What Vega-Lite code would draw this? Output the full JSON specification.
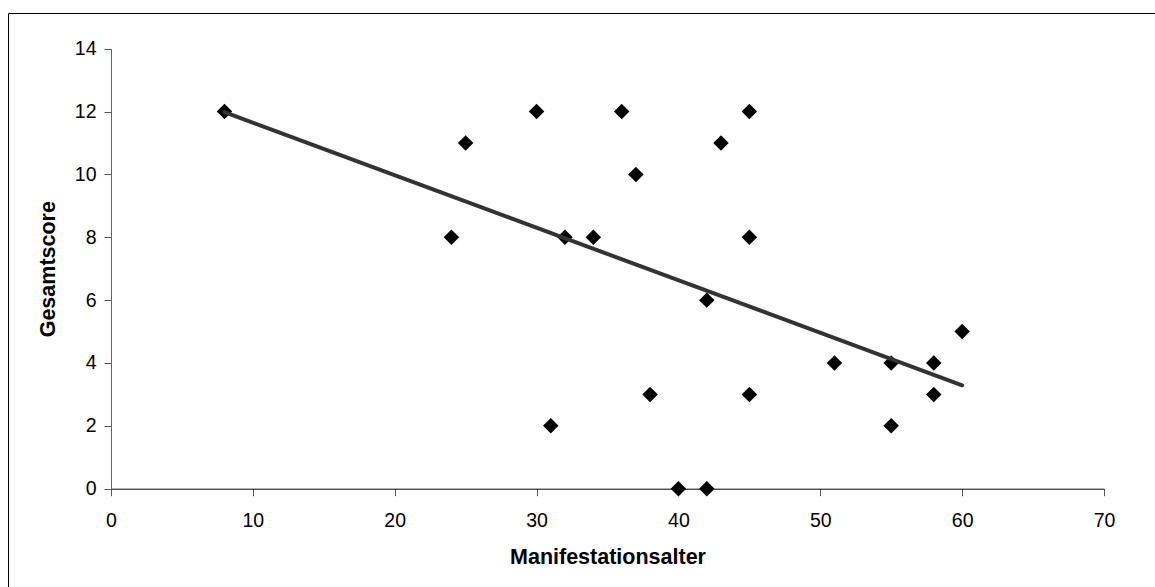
{
  "$schema": "https://vega.github.io/schema/vega-lite/v6.json",
  "autosize": "none",
  "width": 1147,
  "height": 574,
  "padding": {"left": 8, "top": 13, "right": 0, "bottom": 0},
  "background": "white",
  "config": {
    "view": {"stroke": null},
    "font": "Liberation Sans",
    "axis": {
      "grid": false,
      "labelFont": "Liberation Sans",
      "labelFontSize": 19.5,
      "labelColor": "black",
      "labelFlush": false,
      "titleFont": "Liberation Sans",
      "titleFontSize": 21.5,
      "titleFontWeight": "bold",
      "titleColor": "black",
      "tickSize": 7,
      "tickColor": "#555",
      "domainColor": "black"
    }
  },
  "datasets": {
    "points": [
      {"Manifestationsalter": 8, "Gesamtscore": 12},
      {"Manifestationsalter": 24, "Gesamtscore": 8},
      {"Manifestationsalter": 25, "Gesamtscore": 11},
      {"Manifestationsalter": 30, "Gesamtscore": 12},
      {"Manifestationsalter": 31, "Gesamtscore": 2},
      {"Manifestationsalter": 32, "Gesamtscore": 8},
      {"Manifestationsalter": 34, "Gesamtscore": 8},
      {"Manifestationsalter": 36, "Gesamtscore": 12},
      {"Manifestationsalter": 37, "Gesamtscore": 10},
      {"Manifestationsalter": 38, "Gesamtscore": 3},
      {"Manifestationsalter": 40, "Gesamtscore": 0},
      {"Manifestationsalter": 42, "Gesamtscore": 0},
      {"Manifestationsalter": 42, "Gesamtscore": 6},
      {"Manifestationsalter": 43, "Gesamtscore": 11},
      {"Manifestationsalter": 45, "Gesamtscore": 12},
      {"Manifestationsalter": 45, "Gesamtscore": 8},
      {"Manifestationsalter": 45, "Gesamtscore": 3},
      {"Manifestationsalter": 51, "Gesamtscore": 4},
      {"Manifestationsalter": 55, "Gesamtscore": 4},
      {"Manifestationsalter": 55, "Gesamtscore": 2},
      {"Manifestationsalter": 58, "Gesamtscore": 4},
      {"Manifestationsalter": 58, "Gesamtscore": 3},
      {"Manifestationsalter": 60, "Gesamtscore": 5}
    ],
    "trend": [
      {"Manifestationsalter": 8, "Gesamtscore": 11.98},
      {"Manifestationsalter": 60, "Gesamtscore": 3.29}
    ]
  },
  "resolve": {"scale": {"x": "independent", "y": "independent"}, "axis": {"x": "independent", "y": "independent"}},
  "layer": [
    {
      "encoding": {
        "x": {
          "field": "Manifestationsalter",
          "type": "quantitative",
          "scale": {"domain": [0, 70], "range": [103, 1096], "nice": false, "zero": false},
          "axis": {
            "orient": "bottom",
            "title": "Manifestationsalter",
            "values": [0, 10, 20, 30, 40, 50, 60, 70],
            "offset": -98.3,
            "labelPadding": 16,
            "titlePadding": 16,
            "domainColor": "black"
          }
        },
        "y": {
          "field": "Gesamtscore",
          "type": "quantitative",
          "scale": {"domain": [0, 14], "range": [475.7, 35.7], "nice": false, "zero": false},
          "axis": {
            "orient": "left",
            "title": "Gesamtscore",
            "values": [0, 2, 4, 6, 8, 10, 12, 14],
            "offset": -103,
            "labelPadding": 8,
            "titlePadding": 15,
            "domainColor": "#666"
          }
        }
      },
      "layer": [
        {
          "data": {"name": "points"},
          "mark": {"type": "point", "shape": "diamond", "filled": true, "size": 240, "color": "black", "opacity": 1, "strokeWidth": 0}
        },
        {
          "data": {"name": "trend"},
          "mark": {"type": "line", "color": "#333333", "strokeWidth": 4, "strokeCap": "round"}
        }
      ]
    },
    {
      "data": {"name": "trend"},
      "mark": {"type": "point", "opacity": 0},
      "encoding": {
        "x": {
          "field": "Manifestationsalter",
          "type": "quantitative",
          "scale": {"domain": [0, 1147], "range": [0, 1147], "nice": false, "zero": false},
          "axis": {"orient": "top", "title": null, "labels": false, "ticks": false, "domain": true, "domainColor": "black", "offset": 0}
        },
        "y": {
          "field": "Gesamtscore",
          "type": "quantitative",
          "scale": {"domain": [0, 574], "range": [574, 0], "nice": false, "zero": false},
          "axis": {"orient": "left", "title": null, "labels": false, "ticks": false, "domain": true, "domainColor": "black", "offset": 0}
        }
      }
    }
  ]
}
